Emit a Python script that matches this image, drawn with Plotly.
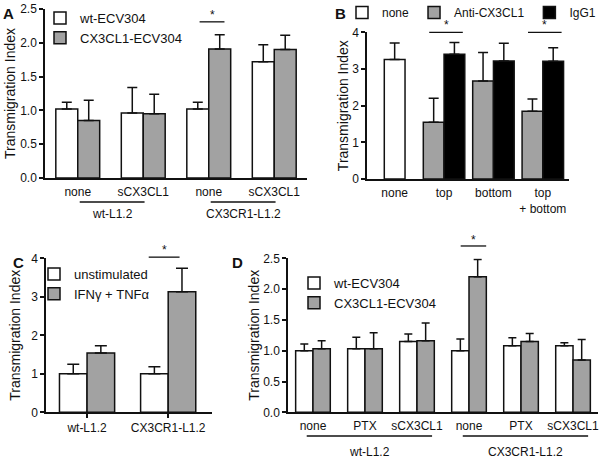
import plotly.graph_objects as go

W, H = 602, 458
FONT = "Arial, Liberation Sans, sans-serif"
GRAY = "#a2a2a2"
INK = "#111111"

# ---------------- data ----------------
# Panel A
a_categories = ["none", "sCX3CL1", "none", "sCX3CL1"]
a_wt = [1.02, 0.96, 1.02, 1.72]
a_wt_err = [0.10, 0.38, 0.10, 0.25]
a_cx = [0.85, 0.95, 1.91, 1.90]
a_cx_err = [0.30, 0.29, 0.21, 0.21]
a_groups = ["wt-L1.2", "CX3CR1-L1.2"]
a_group_members = [[0, 1], [2, 3]]
a_sig = [2]

# Panel B
b_categories = ["none", "top", "bottom", "top<br>+ bottom"]
b_none_cats = [0]
b_none = [3.26]
b_none_err = [0.45]
b_ab_cats = [1, 2, 3]
b_anti = [1.55, 2.67, 1.85]
b_anti_err = [0.65, 0.78, 0.33]
b_igg = [3.40, 3.22, 3.21]
b_igg_err = [0.32, 0.48, 0.37]
b_sig = [1, 3]

# Panel C
c_categories = ["wt-L1.2", "CX3CR1-L1.2"]
c_unstim = [1.00, 1.00]
c_unstim_err = [0.25, 0.18]
c_stim = [1.54, 3.13]
c_stim_err = [0.19, 0.61]
c_sig = [1]

# Panel D
d_categories = ["none", "PTX", "sCX3CL1", "none", "PTX", "sCX3CL1"]
d_wt = [1.00, 1.03, 1.15, 1.00, 1.08, 1.08]
d_wt_err = [0.11, 0.19, 0.12, 0.19, 0.13, 0.05]
d_cx = [1.03, 1.03, 1.16, 2.20, 1.15, 0.85]
d_cx_err = [0.13, 0.26, 0.29, 0.28, 0.13, 0.33]
d_groups = ["wt-L1.2", "CX3CR1-L1.2"]
d_group_members = [[0, 1, 2], [3, 4, 5]]
d_sig = [3]


def px(x):
    return x / W


def py(y):
    return 1 - y / H


def idx(seq):
    return list(range(len(seq)))


fig = go.Figure()


def bar(x, y, err, fill, name, xa, ya, width, offset, legend, showlegend=True, cap=5):
    fig.add_trace(go.Bar(
        x=x, y=y, name=name, xaxis=xa, yaxis=ya,
        width=width, offset=offset,
        marker=dict(color=fill, line=dict(color=INK, width=1.5)),
        error_y=dict(type="data", array=err, arrayminus=[0] * len(err), symmetric=False,
                     color=INK, thickness=1.5, width=cap),
        legend=legend, showlegend=showlegend, hoverinfo="skip",
    ))


# A
wa = 0.335
bar(idx(a_categories), a_wt, a_wt_err, "white", "wt-ECV304", "x", "y", wa, -wa, "legend")
bar(idx(a_categories), a_cx, a_cx_err, GRAY, "CX3CL1-ECV304", "x", "y", wa, 0, "legend")
# B
wb = 0.42
bar(b_none_cats, b_none, b_none_err, "white", "none", "x2", "y2", wb, -wb / 2, "legend2")
bar(b_ab_cats, b_anti, b_anti_err, GRAY, "Anti-CX3CL1", "x2", "y2", wb, -wb, "legend2")
bar(b_ab_cats, b_igg, b_igg_err, "black", "IgG1", "x2", "y2", wb, 0, "legend2")
# C
wc = 0.34
bar(idx(c_categories), c_unstim, c_unstim_err, "white", "unstimulated", "x3", "y3", wc, -wc, "legend3", cap=6)
bar(idx(c_categories), c_stim, c_stim_err, GRAY, "IFNγ + TNFα", "x3", "y3", wc, 0, "legend3", cap=6)
# D
wd = 0.333
bar(idx(d_categories), d_wt, d_wt_err, "white", "wt-ECV304", "x4", "y4", wd, -wd, "legend4", cap=4)
bar(idx(d_categories), d_cx, d_cx_err, GRAY, "CX3CL1-ECV304", "x4", "y4", wd, 0, "legend4", cap=4)

axis_common = dict(showgrid=False, zeroline=False, showline=True, linecolor=INK, linewidth=1.5,
                   tickfont=dict(family=FONT, size=12, color=INK), fixedrange=True)


def yax(domain, rng, dtick, fmt, anchor, standoff):
    return dict(domain=domain, range=rng, dtick=dtick, tickformat=fmt, ticks="outside", ticklen=4,
                tickwidth=1.5, tickcolor=INK, anchor=anchor,
                title=dict(text="Transmigration Index", font=dict(family=FONT, size=14, color=INK),
                           standoff=standoff),
                **axis_common)


def xax(domain, rng, cats, anchor, ticks="", standoff=2):
    return dict(domain=domain, range=rng, tickmode="array", tickvals=idx(cats), ticktext=cats,
                ticks=ticks, ticklen=4, tickwidth=1.5, tickcolor=INK, anchor=anchor,
                ticklabelstandoff=standoff, **axis_common)


legend_font = dict(family=FONT, size=13, color=INK)
fig.update_layout(
    width=W, height=H, margin=dict(l=0, r=0, t=0, b=0, autoexpand=False),
    paper_bgcolor="white", plot_bgcolor="white", barmode="overlay",
    font=dict(family=FONT, color=INK),
    xaxis=xax([px(45), px(307)], [-0.5, 3.5], a_categories, "y"),
    yaxis=yax([py(178), py(9)], [0, 2.5], 0.5, ".1f", "x", 1),
    xaxis2=xax([px(367), px(569)], [-0.56, 3.53], b_categories, "y2"),
    yaxis2=yax([py(179), py(32.3)], [0, 4], 1, "d", "x2", 0),
    xaxis3=xax([px(46), px(212)], [-0.506, 1.54], c_categories, "y3", ticks="outside", standoff=0),
    yaxis3=yax([py(412.3), py(258.3)], [0, 4], 1, "d", "x3", 7),
    xaxis4=xax([px(288), px(598)], [-0.48, 5.48], d_categories, "y4"),
    yaxis4=yax([py(412.3), py(258.3)], [0, 2.5], 0.5, ".1f", "x4", 0),
    legend=dict(x=px(40), y=py(3), xanchor="left", yanchor="top", bgcolor="rgba(0,0,0,0)",
                font=legend_font, itemwidth=30, tracegroupgap=0),
    legend2=dict(x=px(342), y=py(-2), xanchor="left", yanchor="top", orientation="h",
                 bgcolor="rgba(0,0,0,0)", font=dict(family=FONT, size=12, color=INK), itemwidth=30),
    legend3=dict(x=px(34), y=py(259), xanchor="left", yanchor="top", bgcolor="rgba(0,0,0,0)",
                 font=legend_font, itemwidth=30),
    legend4=dict(x=px(294), y=py(268), xanchor="left", yanchor="top", bgcolor="rgba(0,0,0,0)",
                 font=legend_font, itemwidth=30),
)

shapes = []
annotations = []

# panel letters
for letter, (lx, ly) in zip("ABCD", [(8, 14), (340, 13), (18, 262), (237, 262)]):
    annotations.append(dict(text="<b>%s</b>" % letter, x=px(lx), y=py(ly), xref="paper", yref="paper",
                            showarrow=False, font=dict(family=FONT, size=15, color=INK),
                            xanchor="center", yanchor="middle"))


def sig(xa, ya, i, left, right, yline, ystar, ymax):
    shapes.append(dict(type="line", xref=xa, yref=ya + " domain", x0=i - left, x1=i + right,
                       y0=yline / ymax, y1=yline / ymax, line=dict(color=INK, width=1.3)))
    annotations.append(dict(text="*", x=i + (right - left) / 2, y=ystar / ymax, xref=xa,
                            yref=ya + " domain", showarrow=False,
                            font=dict(family=FONT, size=12, color=INK),
                            xanchor="center", yanchor="middle"))


for i in a_sig:
    sig("x", "y", i, 0.14, 0.24, 2.31, 2.41, 2.5)
for i in b_sig:
    sig("x2", "y2", i, 0.30, 0.38, 4.0, 4.2, 4.0)
for i in c_sig:
    sig("x3", "y3", i, 0.24, 0.14, 4.03, 4.22, 4.0)
for i in d_sig:
    sig("x4", "y4", i, 0.16, 0.33, 2.70, 2.79, 2.5)


def group_lines(xa, groups, members, lpad, rpad, yline, ylabel):
    for g, m in zip(groups, members):
        x0, x1 = m[0] - lpad, m[-1] + rpad
        shapes.append(dict(type="line", xref=xa, yref="paper", x0=x0, x1=x1,
                           y0=py(yline), y1=py(yline), line=dict(color=INK, width=1.3)))
        annotations.append(dict(text=g, x=(x0 + x1) / 2, y=py(ylabel), xref=xa, yref="paper",
                                showarrow=False, font=dict(family=FONT, size=12, color=INK),
                                xanchor="center", yanchor="middle"))


group_lines("x", a_groups, a_group_members, -0.03, 0.02, 202, 214)
group_lines("x4", d_groups, d_group_members, 0.12, 0.29, 436, 452)

fig.update_layout(shapes=shapes, annotations=annotations)
fig.write_html("out.html", config={"displayModeBar": False},
               post_script="document.body.style.margin='0';")
